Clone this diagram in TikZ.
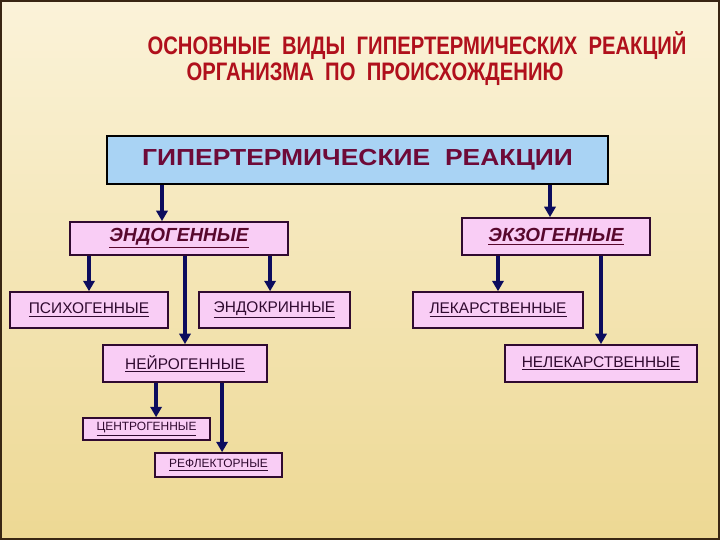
\documentclass[tikz,border=0pt]{standalone}
\usepackage{fontspec}
\setmainfont{Liberation Sans}
\newfontfamily\titlefont[FakeStretch=0.8]{Liberation Sans}
\newfontfamily\widefont[FakeStretch=1.14]{Liberation Sans}
\usepackage{xcolor}
\usetikzlibrary{arrows.meta,positioning,calc}
\definecolor{bgtop}{HTML}{FBF3D9}
\definecolor{bgbot}{HTML}{EDD893}
\definecolor{titlered}{HTML}{B0101C}
\definecolor{skyfill}{HTML}{A9D3F4}
\definecolor{maroon}{HTML}{6E0A38}
\definecolor{pinkfill}{HTML}{F9CDF5}
\definecolor{navy}{HTML}{0C0C5E}
\definecolor{plum}{HTML}{300A30}

\begin{document}
\begin{tikzpicture}[x=0.25mm, y=-0.25mm,
  every node/.style={font=\fontsize{11}{13}\selectfont, text=plum},
  box/.style={draw=plum, fill=pinkfill, line width=1.1pt, align=center,
              inner sep=2pt, minimum height=9mm},
  big/.style={box, font=\bfseries\itshape\fontsize{13.5}{15}\selectfont,
              text=maroon!80!black},
  small/.style={box, font=\fontsize{8.5}{10}\selectfont, minimum width=3.18cm},
  ar/.style={-{Triangle[length=2.6mm, width=2.8mm]}, draw=navy,
             line width=2.8pt}]
  % background
  \shade[top color=bgtop, bottom color=bgbot] (0,0) rectangle (720,540);
  \draw[line width=1.2pt, draw=black!70!brown] (1,1) rectangle (719,539);
  \useasboundingbox (0,0) rectangle (720,540);
  % title
  \node[font=\titlefont\bfseries\fontsize{18}{20}\selectfont, text=titlered]
    (ttl1) at (417,46) {ОСНОВНЫЕ \ ВИДЫ \ ГИПЕРТЕРМИЧЕСКИХ \ РЕАКЦИЙ};
  \node[font=\titlefont\bfseries\fontsize{18}{20}\selectfont, text=titlered]
    (ttl2) at (375,74) {ОРГАНИЗМА \ ПО \ ПРОИСХОЖДЕНИЮ};
  % boxes
  \node[draw=black, fill=skyfill, line width=1.8pt, minimum width=12.53cm,
        minimum height=1.2cm, text=maroon,
        font=\widefont\bfseries\fontsize{16.5}{18}\selectfont]
    (hyp) at (357.5,160) {ГИПЕРТЕРМИЧЕСКИЕ \ РЕАКЦИИ};
  \node[big, minimum width=5.45cm, minimum height=8.3mm] (endo) at (179,238.5)
    {\underline{ЭНДОГЕННЫЕ}};
  \node[big, minimum width=4.7cm, minimum height=9.3mm] (exo) at (556,236.5)
    {\underline{ЭКЗОГЕННЫЕ}};
  \node[box, minimum width=3.95cm] (psy) at (89,310) {\underline{ПСИХОГЕННЫЕ}};
  \node[box, minimum width=3.78cm] (endocr) at (274.5,310)
    {\underline{ЭНДОКРИННЫЕ}};
  \node[box, minimum width=4.1cm, minimum height=9.3mm] (neuro) at (185,363.5)
    {\underline{НЕЙРОГЕННЫЕ}};
  \node[small, minimum height=5.5mm] (centr) at (146.5,429)
    {\underline{ЦЕНТРОГЕННЫЕ}};
  \node[small, minimum height=6mm] (refl) at (218.5,465)
    {\underline{РЕФЛЕКТОРНЫЕ}};
  \node[box, minimum width=4.25cm] (drug) at (498,310)
    {\underline{ЛЕКАРСТВЕННЫЕ}};
  \node[box, minimum width=4.8cm, minimum height=9.3mm] (nodrug) at (601,363.5)
    {\underline{НЕЛЕКАРСТВЕННЫЕ}};
  % arrows
  \draw[ar] ([xshift=-4.25mm]endo.north |- hyp.south)
            -- ([xshift=-4.25mm]endo.north);
  \draw[ar] ([xshift=-1.5mm]exo.north |- hyp.south)
            -- ([xshift=-1.5mm]exo.north);
  \draw[ar] (psy.north |- endo.south) -- (psy.north);
  \draw[ar] (neuro.north |- endo.south) -- (neuro.north);
  \draw[ar] ([xshift=-1.1mm]endocr.north |- endo.south)
            -- ([xshift=-1.1mm]endocr.north);
  \draw[ar] ([xshift=2.4mm]centr.north |- neuro.south)
            -- ([xshift=2.4mm]centr.north);
  \draw[ar] ([xshift=0.9mm]refl.north |- neuro.south)
            -- ([xshift=0.9mm]refl.north);
  \draw[ar] (drug.north |- exo.south) -- (drug.north);
  \draw[ar] (nodrug.north |- exo.south) -- (nodrug.north);
\end{tikzpicture}
\end{document}
